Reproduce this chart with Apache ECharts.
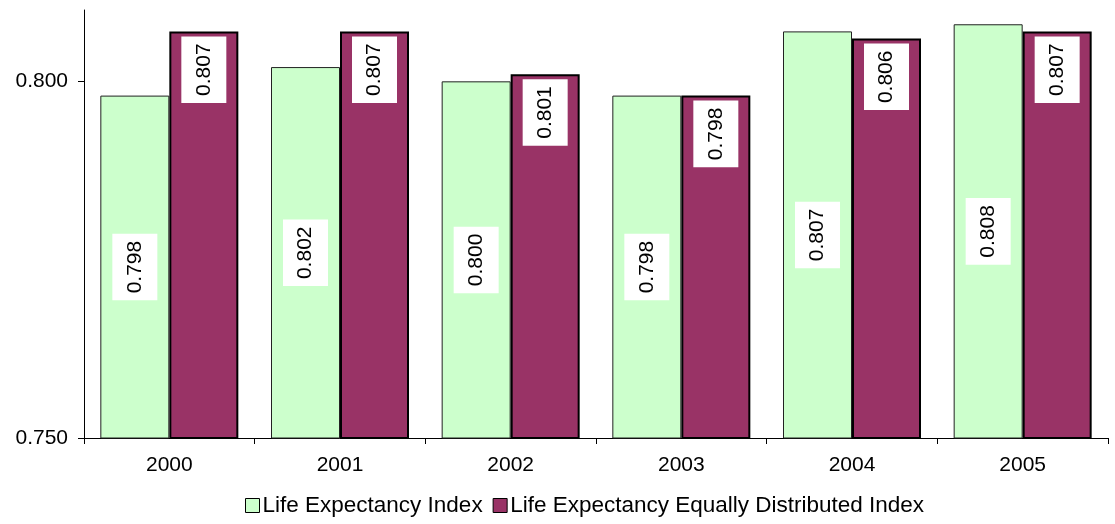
<!DOCTYPE html>
<html>
<head>
<meta charset="utf-8">
<title></title>
<script src="https://cdn.jsdelivr.net/npm/echarts@6/dist/echarts.min.js"></script>
<style>
  html, body { margin: 0; padding: 0; background: #fff; }
  #chart { width: 1115px; height: 524px; }
</style>
</head>
<body>
<div id="chart"></div>
<script>
var years = ['2000', '2001', '2002', '2003', '2004', '2005'];
var lifeIndex = [0.798, 0.802, 0.800, 0.798, 0.807, 0.808];
var equalIndex = [0.807, 0.807, 0.801, 0.798, 0.806, 0.807];
var yTicks = [0.75, 0.80];

var font = 'Liberation Sans, Arial, sans-serif';

var myChart = echarts.init(document.getElementById('chart'));
myChart.setOption({
  animation: false,
  textStyle: { fontFamily: font },
  grid: { left: 84, right: 7, top: 10, bottom: 86 },
  legend: {
    bottom: 2,
    left: 240,
    icon: 'rect',
    itemWidth: 14,
    itemHeight: 14,
    itemGap: 10,
    itemStyle: { borderColor: '#000', borderWidth: 1 },
    textStyle: { fontFamily: font, fontSize: 22.5, color: '#000', padding: [0, 0, 0, -2] },
    data: ['Life Expectancy Index', 'Life Expectancy Equally Distributed Index']
  },
  xAxis: {
    type: 'category',
    data: years,
    axisLine: { lineStyle: { color: '#000', width: 1 } },
    axisTick: { show: true, length: 6, lineStyle: { color: '#000' } },
    axisLabel: { fontFamily: font, fontSize: 21, color: '#000', margin: 17 }
  },
  yAxis: {
    type: 'value',
    min: 0.75,
    max: 0.81,
    interval: 0.05,
    splitLine: { show: false },
    axisLine: { show: true, lineStyle: { color: '#000', width: 1 } },
    axisTick: { show: true, length: 6, customValues: yTicks, lineStyle: { color: '#000' } },
    axisLabel: {
      customValues: yTicks,
      fontFamily: font, fontSize: 21, color: '#000', margin: 16,
      formatter: function (v) { return v.toFixed(3); }
    }
  },
  series: [{
    name: 'Life Expectancy Index',
    type: 'bar',
    barWidth: 69,
    barGap: 0,
    data: lifeIndex,
    itemStyle: { color: '#CCFFCC', borderColor: '#222', borderWidth: 1 },
    label: {
      show: true,
      position: 'inside',
      rotate: 90,
      align: 'center',
      verticalAlign: 'middle',
      backgroundColor: '#fff',
      padding: [12, 7],
      lineHeight: 21,
      fontFamily: font,
      fontSize: 21,
      color: '#000',
      formatter: function (p) { return p.value.toFixed(3); }
    }
  }, {
    name: 'Life Expectancy Equally Distributed Index',
    type: 'bar',
    barWidth: 69,
    barGap: 0,
    data: equalIndex,
    itemStyle: { color: '#993366', borderColor: '#000', borderWidth: 2 },
    label: {
      show: true,
      position: 'insideTop',
      distance: 5,
      rotate: 90,
      align: 'right',
      verticalAlign: 'middle',
      backgroundColor: '#fff',
      padding: [12, 7],
      lineHeight: 21,
      fontFamily: font,
      fontSize: 21,
      color: '#000',
      formatter: function (p) { return p.value.toFixed(3); }
    }
  }]
});
</script>
</body>
</html>
